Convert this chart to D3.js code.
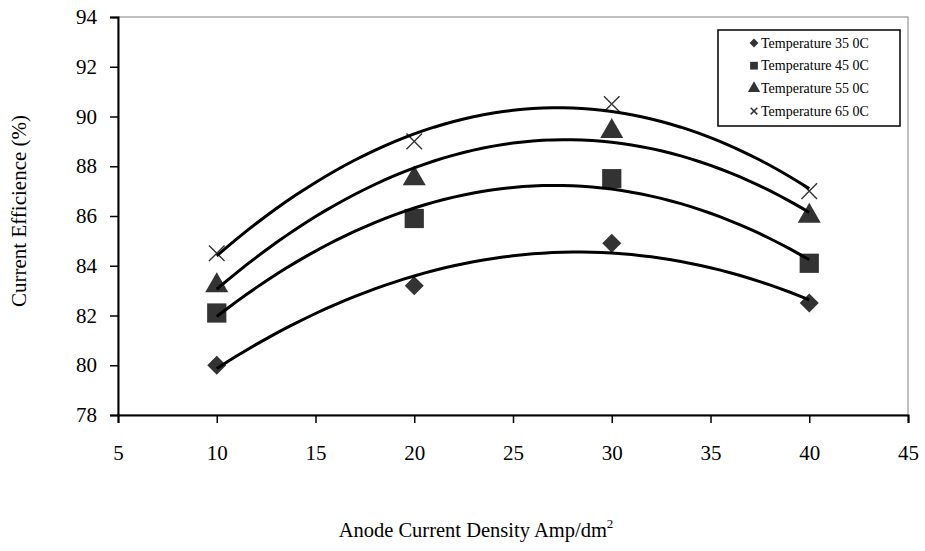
<!DOCTYPE html>
<html>
<head>
<meta charset="utf-8">
<script src="https://cdnjs.cloudflare.com/ajax/libs/d3/7.8.5/d3.min.js"></script>
<style>
  body { margin: 0; background: #fff; }
  text { font-family: "Liberation Serif", "Times New Roman", serif; }
</style>
</head>
<body>
<div id="chart-area"></div>
<script>
// data
var density = [10, 20, 30, 40];
var temp35 = [80.0, 83.2, 84.9, 82.5];
var temp45 = [82.1, 85.9, 87.5, 84.1];
var temp55 = [83.2, 87.5, 89.4, 86.0];
var temp65 = [84.5, 89.0, 90.5, 87.0];
var seriesNames = ["Temperature 35 0C", "Temperature 45 0C", "Temperature 55 0C", "Temperature 65 0C"];
var xTicks = [5, 10, 15, 20, 25, 30, 35, 40, 45];
var yTicks = [78, 80, 82, 84, 86, 88, 90, 92, 94];

var series = [
  { name: seriesNames[0], values: temp35, shape: "diamond" },
  { name: seriesNames[1], values: temp45, shape: "square" },
  { name: seriesNames[2], values: temp55, shape: "triangle" },
  { name: seriesNames[3], values: temp65, shape: "cross" }
];

var width = 925, height = 551;
var plotLeft = 118, plotRight = 908, plotTop = 17, plotBottom = 415;

var svg = d3.select("#chart-area")
  .append("svg")
  .attr("width", width)
  .attr("height", height);

var x = d3.scaleLinear().domain([5, 45]).range([plotLeft, plotRight]);
var y = d3.scaleLinear().domain([78, 94]).range([plotBottom, plotTop]);

// plot frame (grey top / right)
svg.append("rect")
  .attr("x", plotLeft)
  .attr("y", plotTop)
  .attr("width", plotRight - plotLeft)
  .attr("height", plotBottom - plotTop)
  .attr("fill", "none")
  .attr("stroke", "#808080")
  .attr("stroke-width", 1);

// axes
var xAxis = svg.append("g")
  .attr("transform", "translate(0," + plotBottom + ")")
  .call(d3.axisBottom(x).tickValues(xTicks).tickSize(8).tickPadding(22));
var yAxis = svg.append("g")
  .attr("transform", "translate(" + plotLeft + ",0)")
  .call(d3.axisLeft(y).tickValues(yTicks).tickSize(8).tickPadding(13));

[xAxis, yAxis].forEach(function(ax) {
  ax.select(".domain").attr("stroke", "#000").attr("stroke-width", 2);
  ax.selectAll(".tick line").attr("stroke", "#000").attr("stroke-width", 1.5);
  ax.selectAll(".tick text")
    .attr("font-family", "Liberation Serif, Times New Roman, serif")
    .attr("font-size", "21px")
    .attr("fill", "#000");
});

// quadratic least-squares trend line for each series
function quadFit(xs, ys) {
  var n = xs.length, s = [0, 0, 0, 0, 0], t = [0, 0, 0];
  for (var i = 0; i < n; i++) {
    var p = 1;
    for (var k = 0; k < 5; k++) { s[k] += p; if (k < 3) t[k] += p * ys[i]; p *= xs[i]; }
  }
  var m = [[s[0], s[1], s[2], t[0]], [s[1], s[2], s[3], t[1]], [s[2], s[3], s[4], t[2]]];
  for (var c = 0; c < 3; c++) {
    for (var r = c + 1; r < 3; r++) {
      var f = m[r][c] / m[c][c];
      for (var j = c; j < 4; j++) m[r][j] -= f * m[c][j];
    }
  }
  var coef = [0, 0, 0];
  for (var r2 = 2; r2 >= 0; r2--) {
    var v = m[r2][3];
    for (var j2 = r2 + 1; j2 < 3; j2++) v -= m[r2][j2] * coef[j2];
    coef[r2] = v / m[r2][r2];
  }
  return function(xv) { return coef[0] + coef[1] * xv + coef[2] * xv * xv; };
}

var line = d3.line()
  .x(function(d) { return x(d[0]); })
  .y(function(d) { return y(d[1]); });

var symbolType = {
  diamond: d3.symbolDiamond2,
  square: d3.symbolSquare,
  triangle: d3.symbolTriangle,
  cross: d3.symbolX
};

// markers
series.forEach(function(s) {
  var pts = density.map(function(d, i) { return [d, s.values[i]]; });
  var big = { diamond: 230, square: 370, triangle: 230, cross: 160 }[s.shape];
  svg.append("g").selectAll("path")
    .data(pts)
    .enter().append("path")
    .attr("transform", function(d) { return "translate(" + x(d[0]) + "," + y(d[1]) + ")"; })
    .attr("d", d3.symbol().type(symbolType[s.shape]).size(big))
    .attr("fill", s.shape === "cross" ? "none" : "#333")
    .attr("stroke", s.shape === "cross" ? "#333" : "none")
    .attr("stroke-width", 1.4);
});

// trend lines
series.forEach(function(s) {
  var fit = quadFit(density, s.values);
  var pts = d3.range(10, 40.01, 0.5).map(function(v) { return [v, fit(v)]; });
  svg.append("path")
    .datum(pts)
    .attr("d", line)
    .attr("fill", "none")
    .attr("stroke", "#000")
    .attr("stroke-width", 3);
});

// legend
var legend = svg.append("g");
legend.append("rect")
  .attr("x", 718)
  .attr("y", 30)
  .attr("width", 182)
  .attr("height", 96)
  .attr("fill", "#fff")
  .attr("stroke", "#000")
  .attr("stroke-width", 1.5);

series.forEach(function(s, i) {
  var ly = 43 + i * 22.7;
  var small = { diamond: 50, square: 60, triangle: 65, cross: 30 }[s.shape];
  legend.append("path")
    .attr("transform", "translate(754," + ly + ")")
    .attr("d", d3.symbol().type(symbolType[s.shape]).size(small))
    .attr("fill", s.shape === "cross" ? "none" : "#333")
    .attr("stroke", s.shape === "cross" ? "#333" : "none")
    .attr("stroke-width", 1.5);
  legend.append("text")
    .attr("x", 761)
    .attr("y", ly + 4.5)
    .attr("font-size", "14px")
    .attr("fill", "#000")
    .text(s.name);
});

// axis titles
var xTitle = svg.append("text")
  .attr("x", 476)
  .attr("y", 537)
  .attr("text-anchor", "middle")
  .attr("font-size", "20.5px")
  .attr("fill", "#000");
xTitle.append("tspan").text("Anode Current Density Amp/dm");
xTitle.append("tspan").attr("dy", -9).attr("font-size", "13px").text("2");

svg.append("text")
  .attr("transform", "translate(26,211) rotate(-90)")
  .attr("text-anchor", "middle")
  .attr("font-size", "21px")
  .attr("fill", "#000")
  .text("Current Efficience (%)");
</script>
</body>
</html>
